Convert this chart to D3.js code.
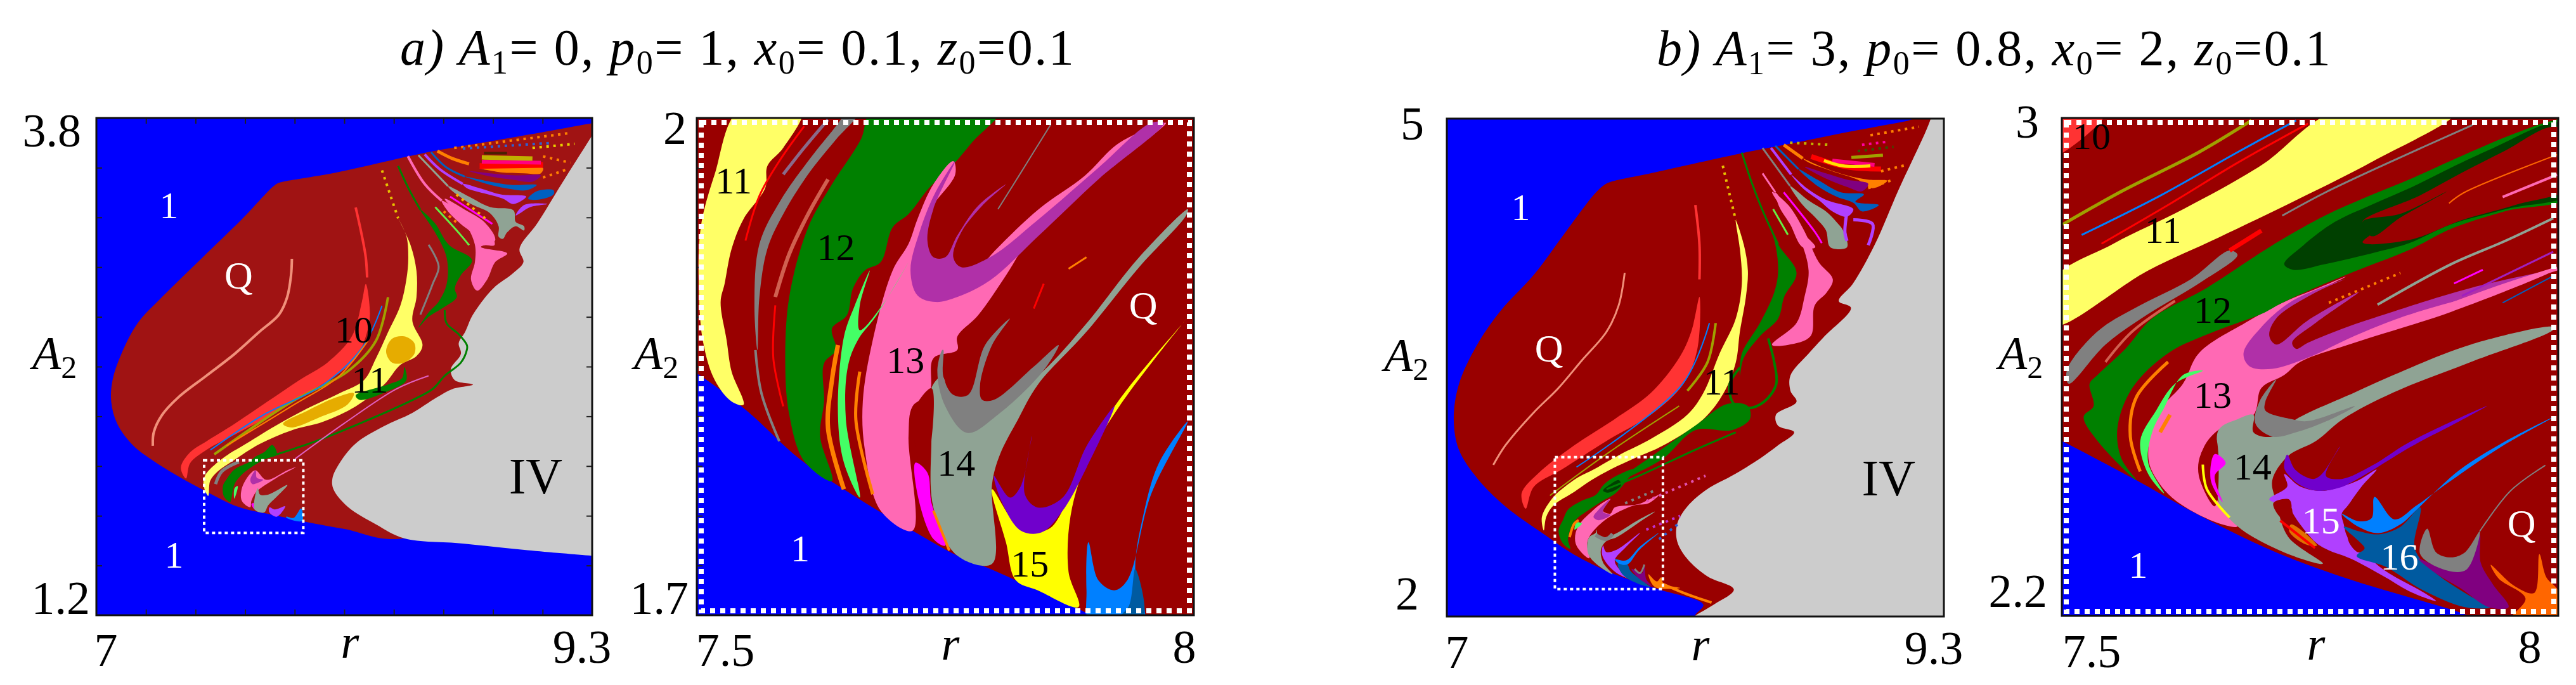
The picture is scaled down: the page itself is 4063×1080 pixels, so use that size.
<!DOCTYPE html>
<html>
<head>
<meta charset="utf-8">
<script src="https://cdn.jsdelivr.net/npm/d3@7"></script>
<style>
    html, body { margin: 0; padding: 0; background: #fff; overflow: hidden; }
    text { font-family: "Liberation Serif", serif; fill: #000; }
</style>
</head>
<body>
<svg id="chart" width="4063" height="1080"></svg>
<script>
// All outlines are [r, A2]

// --- panel a, whole range
const aDark = [[9.4,3.793],[9.3,3.773],[9.0,3.712],[8.75,3.663],[8.503,3.613],[8.11,3.514],[7.86,3.465],[7.84,3.458],[7.815,3.437],[7.679,3.275],[7.491,3.069],[7.304,2.863],[7.191,2.726],[7.116,2.566],[7.075,2.429],[7.069,2.315],[7.097,2.201],[7.172,2.086],[7.266,2.006],[7.379,1.927],[7.51,1.847],[7.66,1.766],[7.829,1.722],[7.978,1.687],[8.147,1.652],[8.428,1.602],[9.4,2.132]];
const aGray = [[8.428,1.602],[8.297,1.675],[8.166,1.767],[8.1,1.858],[8.095,1.915],[8.128,1.995],[8.203,2.098],[8.335,2.189],[8.466,2.258],[8.578,2.338],[8.653,2.383],[8.747,2.406],[8.663,2.429],[8.644,2.486],[8.691,2.566],[8.681,2.623],[8.71,2.68],[8.747,2.772],[8.841,2.909],[8.934,2.989],[8.981,3.046],[8.963,3.115],[9.047,3.252],[9.159,3.457],[9.3,3.709],[9.4,3.888],[9.4,1.502],[9.3,1.511],[9.0,1.54],[8.7,1.575]];
const aRedBand = [[8.25,2.932],[8.232,2.84],[8.185,2.658],[8.072,2.521],[7.941,2.429],[7.791,2.315],[7.641,2.201],[7.51,2.109],[7.435,2.052],[7.392,1.972],[7.416,1.915],[7.435,1.995],[7.51,2.064],[7.66,2.155],[7.829,2.258],[7.978,2.361],[8.11,2.452],[8.203,2.543],[8.25,2.658],[8.269,2.772]];
const aYellow = [[8.4,3.275],[8.438,3.183],[8.447,3.069],[8.438,2.955],[8.41,2.818],[8.353,2.68],[8.297,2.543],[8.241,2.429],[8.128,2.361],[7.978,2.281],[7.829,2.189],[7.679,2.086],[7.612,2.041],[7.553,1.991],[7.504,1.93],[7.497,1.881],[7.519,1.824],[7.528,1.903],[7.563,1.952],[7.632,2.006],[7.759,2.096],[7.904,2.166],[8.053,2.212],[8.203,2.292],[8.335,2.406],[8.41,2.509],[8.485,2.555],[8.513,2.612],[8.466,2.738],[8.485,2.863],[8.485,3.0],[8.457,3.137]];
const aOrangeEye = [[8.344,2.578],[8.372,2.646],[8.428,2.658],[8.475,2.623],[8.475,2.566],[8.428,2.521],[8.372,2.521]];
const aOrangeSliver = [[7.866,2.201],[7.978,2.269],[8.11,2.338],[8.194,2.361],[8.166,2.303],[8.035,2.235],[7.904,2.182]];
const aGreenBlob = [[8.503,3.32],[8.569,3.252],[8.635,3.137],[8.743,3.057],[8.691,2.978],[8.663,2.909],[8.672,2.863],[8.606,2.806],[8.541,2.76],[8.494,2.703],[8.541,2.783],[8.588,2.84],[8.625,2.932],[8.625,3.069],[8.569,3.206]];
const aGreenHook = [[8.203,2.349],[8.353,2.406],[8.419,2.441],[8.428,2.498],[8.438,2.429],[8.353,2.372],[8.222,2.326]];
const aGreenLow = [[7.592,1.82],[7.587,1.875],[7.602,1.908],[7.641,1.963],[7.71,2.002],[7.739,2.03],[7.778,2.052],[7.817,2.09],[7.837,2.041],[7.788,2.019],[7.719,1.974],[7.67,1.93],[7.641,1.886],[7.626,1.809],[7.621,1.792]];
const aPinkUp = [[8.616,3.377],[8.71,3.32],[8.803,3.252],[8.85,3.16],[8.784,3.126],[8.906,3.092],[8.85,3.046],[8.813,2.955],[8.766,2.897],[8.738,2.955],[8.756,3.046],[8.756,3.137],[8.71,3.252]];
const aPinkHigh = [[8.602,3.367],[8.67,3.323],[8.739,3.246],[8.778,3.223],[8.827,3.201],[8.847,3.135],[8.807,3.135],[8.768,3.135],[8.749,3.19],[8.69,3.246],[8.631,3.312]];
const aSageUp = [[8.631,3.444],[8.729,3.389],[8.827,3.334],[8.935,3.317],[8.945,3.257],[8.984,3.234],[8.984,3.212],[8.945,3.234],[8.905,3.201],[8.886,3.168],[8.866,3.179],[8.866,3.234],[8.827,3.301],[8.729,3.356],[8.641,3.428]];
const aVioletUp = [[8.70,3.455],[8.778,3.433],[8.876,3.4],[8.994,3.389],[8.935,3.35],[8.886,3.378],[8.798,3.406],[8.719,3.433]];
const aVioletTwo = [[8.945,3.29],[8.984,3.345],[9.092,3.35],[9.013,3.334],[8.964,3.301]];
const aBlueBand = [[8.709,3.494],[8.827,3.467],[8.925,3.45],[9.043,3.45],[8.994,3.422],[8.925,3.428],[8.827,3.45]];
const aBlueTwo = [[9.003,3.378],[9.043,3.417],[9.121,3.422],[9.121,3.4],[9.052,3.373]];
const aPurpleBand = [[8.729,3.522],[8.827,3.511],[8.945,3.5],[9.062,3.5],[9.023,3.467],[8.925,3.478],[8.827,3.494]];
const aOrangeBand = [[8.778,3.538],[8.876,3.538],[9.072,3.538],[9.062,3.511],[8.984,3.511],[8.876,3.516]];
const aPinkLow = [[7.675,1.798],[7.675,1.864],[7.715,1.941],[7.739,1.958],[7.788,1.908],[7.886,1.958],[7.925,1.974],[7.837,1.919],[7.768,1.869],[7.739,1.842],[7.719,1.798],[7.714,1.765]];
const aPurpleLow = [[7.714,1.908],[7.739,1.958],[7.744,1.919],[7.773,1.908],[7.749,1.892],[7.724,1.886]];
const aMagentaLow = [[7.719,1.781],[7.729,1.787],[7.734,1.753]];
const aMintLow = [[7.641,1.864],[7.656,1.875],[7.64,1.809]];
const aSageLow = [[7.749,1.864],[7.759,1.831],[7.798,1.831],[7.886,1.881],[7.837,1.82],[7.798,1.776],[7.778,1.737],[7.734,1.753],[7.734,1.809]];
const aVioletLow = [[7.803,1.764],[7.827,1.753],[7.876,1.77],[7.837,1.715],[7.803,1.737]];
const aBlueLow = [[7.881,1.715],[7.915,1.709],[7.95,1.759],[7.955,1.693],[7.881,1.71]];
const aSalmonLine = [[7.262,2.086],[7.266,2.155],[7.304,2.246],[7.379,2.338],[7.51,2.452],[7.641,2.566],[7.754,2.68],[7.847,2.772],[7.885,2.863],[7.903,2.978],[7.907,3.064]];
const aRedLine = [[8.203,3.332],[8.232,3.183],[8.25,3.069],[8.256,2.966]];
const aGreenTop = [[8.4,3.549],[8.447,3.434],[8.503,3.32]];
const aGreenCurve = [[8.616,2.795],[8.625,2.726],[8.681,2.669],[8.719,2.612],[8.719,2.589],[8.691,2.521],[8.616,2.452],[8.56,2.383],[8.447,2.315],[8.241,2.212],[8.016,2.109],[7.772,2.018]];
const aOlive = [[8.353,2.863],[8.297,2.635],[8.166,2.475],[7.904,2.315],[7.547,2.041]];
const aBlueThin = [[8.325,2.818],[8.241,2.612],[8.053,2.406],[7.772,2.246],[7.529,2.064]];
const aOrangeThin = [[8.26,2.635],[8.128,2.452],[7.904,2.292],[7.604,2.086]];
const aPinkThin = [[8.541,2.452],[8.391,2.383],[8.147,2.201],[7.922,2.018]];
const aGrayThin = [[8.541,3.137],[8.588,3.023],[8.56,2.932],[8.503,2.772]];
const aGrayLow = [[7.553,1.886],[7.582,1.952],[7.661,2.002]];
const aPinkTop = [[8.445,3.6],[8.523,3.455],[8.602,3.367]];
const aSageTop = [[8.494,3.605],[8.631,3.444]];
const aVioletTop = [[8.523,3.61],[8.592,3.533],[8.70,3.455]];
const aBlueTop = [[8.553,3.621],[8.621,3.544],[8.709,3.494]];
const aRedTop = [[8.778,3.549],[9.072,3.555]];
const aRoseTop = [[8.788,3.571],[9.062,3.566]];
const aOliveTop = [[8.788,3.594],[9.023,3.588]];
const aBrownTop = [[8.798,3.616],[8.905,3.616]];
const aOrangeTop = [[8.582,3.627],[8.651,3.588],[8.729,3.56]];
const aMagentaTop = [[8.641,3.389],[8.837,3.246]];
const aMintTop = [[8.572,3.334],[8.68,3.201],[8.729,3.135]];
const aYellowDots = [[8.325,3.526],[8.4,3.275]];
const aDotsOne = [[8.66,3.643],[9.19,3.72]];
const aDotsTwo = [[8.70,3.64],[9.12,3.67]];
const aDotsThree = [[9.023,3.643],[9.219,3.665]];
const aDotsFour = [[9.072,3.599],[9.199,3.566]];
const aDotsFive = [[9.072,3.489],[9.19,3.533]];
const aDotsSix = [[8.611,3.312],[8.68,3.245]];
const aDotsSeven = [[8.67,3.4],[8.82,3.26]];
const aZoomBox = [7.5, 7.96, 1.63, 2.01];
const aTickR = [7.23,7.46,7.69,7.92,8.15,8.38,8.61,8.84,9.07];
const aTickA = [1.46,1.72,1.98,2.24,2.5,2.76,3.02,3.28,3.54];
const aNotes = [['1',7.337,3.343,'#fff',60],['1',7.36,1.515,'#fff',60],['Q',7.66,2.978,'#fff',62],['10',8.194,2.692,'#000',60],['11',8.269,2.429,'#000',60],['IV',9.038,1.926,'#000',80]];

// --- panel a, zoom
const bDark = [[7.4,1.88],[7.5,1.846],[7.551,1.823],[7.604,1.794],[7.661,1.771],[7.717,1.751],[7.762,1.736],[7.799,1.727],[7.843,1.715],[7.88,1.705],[7.896,1.7],[7.95,1.68],[8.1,1.68],[8.1,2.1],[7.4,2.1]];
const bYellow = [[7.543,2.005],[7.606,2.005],[7.587,1.982],[7.571,1.971],[7.569,1.958],[7.547,1.939],[7.535,1.921],[7.528,1.9],[7.524,1.889],[7.53,1.866],[7.535,1.847],[7.547,1.827],[7.535,1.829],[7.518,1.842],[7.506,1.866],[7.502,1.9],[7.504,1.934],[7.518,1.966]];
const bGreen = [[7.677,2.005],[7.805,2.005],[7.778,1.986],[7.758,1.972],[7.734,1.958],[7.713,1.942],[7.697,1.934],[7.685,1.913],[7.669,1.908],[7.657,1.897],[7.651,1.881],[7.636,1.873],[7.64,1.86],[7.628,1.852],[7.628,1.829],[7.624,1.808],[7.636,1.781],[7.608,1.793],[7.593,1.821],[7.589,1.852],[7.593,1.892],[7.612,1.934],[7.636,1.96],[7.665,1.987]];
const bGrayBand = [[7.652,2.003],[7.663,2.003],[7.64,1.987],[7.612,1.966],[7.587,1.942],[7.571,1.921],[7.563,1.892],[7.561,1.86],[7.558,1.887],[7.563,1.924],[7.584,1.95],[7.612,1.974],[7.636,1.992]];
const bPink = [[7.972,1.997],[7.925,1.974],[7.88,1.953],[7.839,1.931],[7.811,1.905],[7.783,1.881],[7.762,1.868],[7.762,1.86],[7.738,1.855],[7.734,1.834],[7.717,1.826],[7.713,1.808],[7.717,1.751],[7.685,1.763],[7.669,1.8],[7.667,1.829],[7.677,1.866],[7.697,1.908],[7.713,1.924],[7.722,1.939],[7.738,1.96],[7.758,1.974],[7.76,1.966],[7.73,1.94],[7.72,1.908],[7.73,1.892],[7.762,1.895],[7.8,1.92],[7.844,1.945],[7.89,1.965],[7.925,1.985]];
const bPurple = [[7.76,1.974],[7.74,1.955],[7.724,1.931],[7.715,1.908],[7.722,1.893],[7.74,1.889],[7.762,1.892],[7.795,1.902],[7.844,1.929],[7.904,1.963],[7.97,1.997],[7.957,1.997],[7.904,1.97],[7.844,1.939],[7.795,1.916],[7.766,1.91],[7.758,1.916],[7.766,1.931],[7.787,1.947],[7.811,1.96],[7.783,1.947],[7.762,1.929],[7.75,1.916],[7.738,1.916],[7.732,1.926],[7.738,1.945]];
const bSage = [[7.994,1.945],[7.992,1.941],[7.945,1.91],[7.892,1.871],[7.843,1.839],[7.823,1.818],[7.805,1.797],[7.797,1.779],[7.797,1.731],[7.762,1.736],[7.738,1.765],[7.736,1.808],[7.736,1.837],[7.747,1.844],[7.758,1.818],[7.775,1.812],[7.803,1.825],[7.848,1.847],[7.892,1.876],[7.945,1.916]];
const bGrayU = [[7.747,1.86],[7.742,1.847],[7.75,1.826],[7.772,1.81],[7.803,1.821],[7.848,1.847],[7.864,1.863],[7.839,1.85],[7.799,1.83],[7.787,1.83],[7.785,1.839],[7.797,1.863],[7.815,1.879],[7.79,1.863],[7.773,1.833],[7.758,1.833],[7.748,1.844],[7.748,1.86]];
const bDarkPatch = [[7.736,1.837],[7.717,1.822],[7.719,1.805],[7.728,1.786],[7.736,1.805]];
const bMagenta = [[7.72,1.792],[7.732,1.786],[7.736,1.768],[7.75,1.742],[7.738,1.746],[7.722,1.773]];
const bMint = [[7.674,1.908],[7.664,1.887],[7.664,1.872],[7.689,1.889],[7.713,1.913],[7.681,1.881],[7.662,1.866],[7.652,1.85],[7.65,1.818],[7.664,1.771],[7.648,1.792],[7.642,1.821],[7.648,1.868],[7.659,1.887]];
const bYellow15 = [[7.994,1.88],[7.925,1.826],[7.892,1.792],[7.876,1.76],[7.874,1.726],[7.884,1.705],[7.843,1.715],[7.821,1.721],[7.811,1.744],[7.797,1.776],[7.826,1.752],[7.854,1.752],[7.878,1.776],[7.917,1.823],[7.99,1.877]];
const bViolet = [[7.799,1.784],[7.807,1.768],[7.826,1.751],[7.847,1.75],[7.868,1.763],[7.892,1.789],[7.92,1.826],[7.892,1.802],[7.868,1.771],[7.843,1.765],[7.83,1.773],[7.837,1.808],[7.826,1.778],[7.815,1.771]];
const bBlue = [[7.894,1.744],[7.904,1.721],[7.92,1.715],[7.933,1.721],[7.957,1.773],[7.994,1.817],[7.965,1.792],[7.949,1.76],[7.941,1.728],[7.949,1.695],[7.896,1.695],[7.892,1.715]];
const bDarkBlue = [[7.941,1.728],[7.935,1.706],[7.925,1.698],[7.949,1.698]];
const bGrayLow = [[7.559,1.86],[7.565,1.834],[7.583,1.805]];
const bMauve = [[7.632,1.999],[7.608,1.982],[7.587,1.966]];
const bRedOne = [[7.608,1.995],[7.583,1.974],[7.563,1.953],[7.549,1.926]];
const bSalmon = [[7.632,1.963],[7.612,1.942],[7.593,1.918],[7.579,1.892]];
const bRedTwo = [[7.579,1.887],[7.577,1.855],[7.587,1.826]];
const bOrangeOne = [[7.642,1.863],[7.636,1.842],[7.632,1.813],[7.648,1.776]];
const bOrangeTwo = [[7.664,1.847],[7.66,1.818],[7.677,1.773]];
const bOrangeThree = [[7.738,1.763],[7.754,1.739]];
const bRedMark = [[7.849,1.9],[7.839,1.885]];
const bOrangeMark = [[7.892,1.916],[7.874,1.909]];
const bGrayTop = [[7.856,1.996],[7.827,1.968],[7.803,1.945]];
const bTickA = [1.73,1.76,1.79,1.82,1.85,1.88,1.91,1.94,1.97];
const bNotes = [['11',7.537,1.962,'#000',60],['12',7.64,1.922,'#000',60],['13',7.71,1.854,'#000',60],['14',7.761,1.792,'#000',60],['15',7.835,1.731,'#000',60],['1',7.604,1.74,'#fff',60],['Q',7.949,1.887,'#fff',62]];

// --- panel b, whole range
const cDark = [[9.3,5.03],[9.122,4.984],[8.9,4.93],[8.63,4.86],[8.356,4.789],[7.963,4.676],[7.75,4.615],[7.725,4.597],[7.683,4.545],[7.552,4.321],[7.402,4.058],[7.252,3.847],[7.14,3.637],[7.056,3.4],[7.032,3.189],[7.056,3.005],[7.14,2.834],[7.271,2.663],[7.439,2.505],[7.589,2.373],[7.776,2.255],[7.982,2.163],[8.187,2.071],[8.15,2.005],[8.5,2.1],[9.3,3]];
const cGray = [[8.1,1.95],[8.15,2.005],[8.234,2.071],[8.328,2.163],[8.206,2.242],[8.113,2.347],[8.066,2.452],[8.066,2.558],[8.113,2.663],[8.206,2.768],[8.318,2.847],[8.449,2.952],[8.532,3.031],[8.607,3.11],[8.532,3.15],[8.523,3.216],[8.618,3.294],[8.59,3.36],[8.59,3.452],[8.674,3.584],[8.748,3.689],[8.87,3.86],[8.814,3.9],[8.879,4.005],[8.98,4.24],[9.09,4.57],[9.235,4.984],[9.26,5.1],[9.4,5.1],[9.4,1.9]];
const cRedBand = [[8.169,3.926],[8.131,3.716],[8.075,3.558],[7.944,3.347],[7.776,3.189],[7.589,3.031],[7.421,2.86],[7.346,2.742],[7.365,2.65],[7.402,2.781],[7.533,2.887],[7.739,3.058],[7.944,3.216],[8.094,3.4],[8.159,3.61]];
const cYellow = [[8.337,4.387],[8.374,4.242],[8.393,4.084],[8.384,3.926],[8.356,3.716],[8.337,3.531],[8.281,3.347],[8.187,3.189],[8.0,3.03],[7.88,2.96],[7.757,2.886],[7.669,2.822],[7.591,2.752],[7.493,2.669],[7.46,2.6],[7.449,2.518],[7.44,2.6],[7.493,2.72],[7.542,2.778],[7.61,2.841],[7.679,2.886],[7.8,2.975],[7.944,3.07],[8.113,3.216],[8.187,3.347],[8.262,3.584],[8.337,3.795],[8.365,4.005],[8.356,4.216]];
const cGreenBlob = [[8.459,4.453],[8.533,4.242],[8.618,4.071],[8.561,3.926],[8.533,3.795],[8.449,3.689],[8.374,3.558],[8.356,3.452],[8.365,3.584],[8.449,3.768],[8.515,3.953],[8.533,4.084],[8.515,4.268]];
const cGreenBand = [[8.393,3.268],[8.402,3.189],[8.318,3.123],[8.15,3.123],[8.0,2.952],[7.813,2.821],[7.72,2.755],[7.963,2.979],[8.15,3.15],[8.299,3.281]];
const cGreenLow = [[7.537,2.58],[7.561,2.644],[7.62,2.695],[7.689,2.733],[7.728,2.797],[7.786,2.848],[7.865,2.886],[7.82,2.8],[7.777,2.739],[7.718,2.695],[7.659,2.644],[7.591,2.574],[7.561,2.466],[7.571,2.408],[7.537,2.44],[7.517,2.517]];
const cDarkGreenTip = [[7.723,2.759],[7.757,2.797],[7.796,2.822],[7.806,2.79],[7.747,2.746]];
const cPinkUp = [[8.505,4.558],[8.58,4.479],[8.655,4.321],[8.72,4.137],[8.786,4.031],[8.758,3.953],[8.702,3.874],[8.683,3.689],[8.58,3.637],[8.505,3.637],[8.618,3.768],[8.655,3.926],[8.674,4.084],[8.636,4.268],[8.58,4.4]];
const cPinkHigh = [[8.52,4.556],[8.578,4.454],[8.637,4.327],[8.705,4.225],[8.647,4.225],[8.588,4.365],[8.539,4.467]];
const cSageUp = [[8.588,4.594],[8.676,4.505],[8.754,4.441],[8.803,4.377],[8.833,4.327],[8.852,4.225],[8.774,4.225],[8.754,4.327],[8.706,4.403],[8.647,4.479]];
const cVioletUp = [[8.593,4.664],[8.666,4.581],[8.754,4.511],[8.881,4.454],[8.852,4.409],[8.784,4.441],[8.725,4.505],[8.647,4.581]];
const cBlueBand = [[8.627,4.696],[8.715,4.632],[8.823,4.556],[8.93,4.543],[8.891,4.499],[8.999,4.479],[8.921,4.441],[8.882,4.492],[8.803,4.53],[8.715,4.594]];
const cPurpleBand = [[8.657,4.709],[8.754,4.67],[8.852,4.632],[8.95,4.607],[8.921,4.562],[8.852,4.588],[8.754,4.639]];
const cOrangeBand = [[8.647,4.76],[8.735,4.709],[8.852,4.658],[8.95,4.632],[9.038,4.626],[8.97,4.581],[8.901,4.632],[8.784,4.683],[8.676,4.734]];
const cPinkLow = [[7.596,2.44],[7.596,2.504],[7.62,2.567],[7.669,2.631],[7.703,2.669],[7.757,2.708],[7.72,2.64],[7.757,2.62],[7.777,2.657],[7.884,2.676],[7.982,2.733],[7.933,2.682],[7.865,2.669],[7.777,2.618],[7.718,2.567],[7.664,2.491],[7.649,2.44],[7.659,2.351],[7.62,2.39]];
const cPurpleLow = [[7.679,2.599],[7.703,2.644],[7.757,2.708],[7.723,2.631],[7.757,2.612],[7.703,2.58]];
const cMintLow = [[7.591,2.523],[7.6,2.567],[7.625,2.561],[7.6,2.529]];
const cSageLow = [[7.659,2.478],[7.689,2.504],[7.693,2.523],[7.703,2.478],[7.767,2.491],[7.884,2.58],[7.962,2.631],[7.904,2.58],[7.786,2.478],[7.737,2.453],[7.713,2.402],[7.723,2.325],[7.767,2.255],[7.708,2.3],[7.659,2.364],[7.649,2.427]];
const cVioletLow = [[7.723,2.427],[7.737,2.389],[7.786,2.402],[7.894,2.504],[7.826,2.415],[7.777,2.338],[7.806,2.274],[7.855,2.223],[7.786,2.262],[7.737,2.325],[7.718,2.376]];
const cBlueLow = [[7.777,2.345],[7.83,2.338],[7.894,2.421],[7.982,2.504],[7.89,2.4],[7.835,2.313],[7.796,2.319]];
const cDarkBlueLow = [[7.791,2.319],[7.835,2.313],[7.85,2.274],[7.923,2.198],[7.943,2.179],[7.884,2.198],[7.816,2.249]];
const cPlumLow = [[7.855,2.287],[7.904,2.262],[7.914,2.313],[7.923,2.224],[7.948,2.185],[7.894,2.224]];
const cFlameLow = [[7.933,2.255],[7.972,2.211],[7.992,2.236],[8.002,2.198],[8.08,2.172],[7.962,2.179]];
const cSalmonLine = [[7.215,2.913],[7.271,3.031],[7.402,3.229],[7.514,3.373],[7.626,3.545],[7.739,3.716],[7.795,3.874],[7.823,4.071]];
const cRedLine = [[8.15,4.479],[8.169,4.242],[8.169,4.031]];
const cGreenTop = [[8.365,4.795],[8.412,4.61],[8.459,4.453],[8.533,4.242]];
const cGreenLoop = [[8.487,3.676],[8.515,3.531],[8.524,3.4],[8.468,3.294],[8.393,3.255],[8.328,3.281],[8.309,3.4],[8.356,3.5]];
const cGreenThin = [[8.337,3.11],[8.15,3.005],[7.888,2.847],[7.739,2.768]];
const cRedTop = [[8.686,4.772],[8.852,4.709],[9.009,4.696]];
const cRoseTop = [[8.784,4.747],[8.979,4.721]];
const cYellowTop = [[8.745,4.747],[8.833,4.715],[8.96,4.715]];
const cOliveTop = [[8.872,4.766],[9.018,4.779]];
const cOrangeTop = [[8.559,4.842],[8.647,4.76]];
const cVioletTop = [[8.5,4.823],[8.593,4.664]];
const cGrayTop = [[8.461,4.823],[8.588,4.594]];
const cPinkTop = [[8.461,4.67],[8.52,4.556]];
const cBlueTop = [[8.52,4.836],[8.627,4.696]];
const cMagentaTop = [[8.559,4.556],[8.705,4.314],[8.735,4.25]];
const cMintTop = [[8.51,4.454],[8.578,4.301]];
const cLilacOne = [[8.852,4.441],[8.842,4.314],[8.852,4.263]];
const cLilacTwo = [[8.881,4.39],[8.97,4.365],[8.95,4.237]];
const cOrangeLow = [[7.992,2.2],[8.1,2.14],[8.225,2.084]];
const cOrangeRing = [[7.568,2.478],[7.59,2.56],[7.61,2.58]];
const cGrayLow = [[7.689,2.491],[7.737,2.466],[7.767,2.497]];
const cGraySmall = [[7.869,2.287],[7.894,2.262],[7.914,2.313]];
const cOlive = [[8.244,3.768],[8.206,3.531],[8.113,3.36]];
const cOliveLow = [[7.477,2.729],[7.739,2.979],[8.075,3.268]];
const cBlueThin = [[8.215,3.768],[8.09,3.4],[7.6,2.9]];
const cYellowDots = [[8.277,4.716],[8.337,4.387]];
const cDotsOne = [[8.96,4.9],[9.185,4.951]];
const cDotsTwo = [[8.921,4.842],[9.048,4.862]];
const cDotsThree = [[9.009,4.683],[9.126,4.721]];
const cDotsFour = [[8.95,4.581],[9.067,4.632]];
const cDotsFive = [[8.588,4.855],[8.774,4.842]];
const cDotsSix = [[8.901,4.804],[9.067,4.83]];
const cDotsSeven = [[7.923,2.695],[8.197,2.848]];
const cDotsEight = [[7.923,2.523],[8.08,2.606]];
const cDotsNine = [[7.982,2.466],[8.08,2.567]];
const cDotsTen = [[7.825,2.682],[7.972,2.765]];
const cZoomBox = [7.5, 8, 2.165, 2.96];
const cNotes = [['1',7.342,4.466,'#fff',60],['Q',7.473,3.616,'#fff',62],['11',8.272,3.413,'#000',60],['IV',9.044,2.834,'#000',80]];

// --- panel b, zoom
const dDark = [[7.4,2.56],[7.5,2.481],[7.575,2.418],[7.638,2.362],[7.716,2.302],[7.795,2.256],[7.854,2.228],[7.905,2.203],[7.95,2.17],[8.1,2.15],[8.1,3.1],[7.4,3.1]];
const dRedCorner = [[7.49,3.01],[7.544,3.01],[7.52,2.966],[7.49,2.94]];
const dYellow = [[7.775,3.01],[7.897,3.01],[7.814,2.931],[7.74,2.871],[7.658,2.808],[7.587,2.755],[7.49,2.666],[7.49,2.738],[7.552,2.798],[7.623,2.854],[7.701,2.924]];
const dGreen = [[7.995,2.996],[7.956,2.975],[7.897,2.935],[7.854,2.904],[7.807,2.873],[7.765,2.843],[7.722,2.805],[7.693,2.776],[7.646,2.727],[7.591,2.678],[7.564,2.629],[7.536,2.587],[7.528,2.573],[7.532,2.537],[7.522,2.52],[7.536,2.481],[7.575,2.418],[7.56,2.453],[7.556,2.502],[7.571,2.566],[7.607,2.622],[7.654,2.657],[7.701,2.685],[7.722,2.703],[7.765,2.734],[7.807,2.761],[7.85,2.788],[7.892,2.822],[7.946,2.85],[8.02,2.88],[8.02,3]];
const dDarkGreen = [[7.724,2.765],[7.743,2.795],[7.775,2.833],[7.811,2.86],[7.854,2.89],[7.897,2.924],[7.935,2.952],[7.993,2.992],[8.02,2.99],[8.02,2.885],[7.946,2.853],[7.892,2.829],[7.85,2.799],[7.818,2.785],[7.765,2.765],[7.733,2.756]];
const dWedge = [[7.803,2.833],[7.86,2.875],[7.903,2.912],[7.946,2.947],[7.995,2.986],[8.02,2.97],[8.02,2.895],[7.956,2.86],[7.903,2.836],[7.85,2.804],[7.803,2.8],[7.815,2.82]];
const dMidStripe = [[7.803,2.833],[7.841,2.846],[7.888,2.882],[7.841,2.84],[7.812,2.81]];
const dGrayBand = [[7.669,2.787],[7.63,2.741],[7.579,2.699],[7.536,2.657],[7.505,2.594],[7.507,2.573],[7.544,2.636],[7.587,2.685],[7.638,2.734],[7.677,2.78]];
const dPink = [[7.995,2.755],[7.893,2.689],[7.795,2.639],[7.74,2.608],[7.724,2.587],[7.701,2.566],[7.693,2.523],[7.658,2.499],[7.642,2.467],[7.64,2.418],[7.658,2.383],[7.677,2.344],[7.654,2.351],[7.611,2.39],[7.591,2.432],[7.587,2.46],[7.595,2.523],[7.622,2.573],[7.638,2.622],[7.685,2.671],[7.722,2.703],[7.754,2.724],[7.786,2.745],[7.732,2.7],[7.70,2.655],[7.695,2.62],[7.712,2.61],[7.748,2.625],[7.795,2.655],[7.846,2.687],[7.912,2.72]];
const dPurple = [[7.785,2.741],[7.732,2.706],[7.701,2.664],[7.683,2.622],[7.689,2.601],[7.712,2.597],[7.748,2.615],[7.795,2.65],[7.846,2.682],[7.912,2.713],[7.995,2.755],[7.912,2.727],[7.834,2.689],[7.787,2.664],[7.748,2.639],[7.736,2.629],[7.732,2.639],[7.756,2.671],[7.799,2.72],[7.748,2.675],[7.716,2.636],[7.709,2.65],[7.716,2.678],[7.756,2.72]];
const dSage = [[7.995,2.66],[7.912,2.608],[7.834,2.559],[7.783,2.516],[7.756,2.481],[7.728,2.457],[7.712,2.418],[7.716,2.383],[7.728,2.327],[7.763,2.284],[7.724,2.302],[7.677,2.344],[7.658,2.383],[7.658,2.446],[7.658,2.499],[7.677,2.516],[7.693,2.523],[7.693,2.495],[7.712,2.488],[7.736,2.516],[7.795,2.559],[7.834,2.587],[7.912,2.636],[7.995,2.664]];
const dGrayU = [[7.716,2.58],[7.699,2.544],[7.695,2.509],[7.712,2.488],[7.736,2.495],[7.767,2.513],[7.795,2.537],[7.748,2.513],[7.732,2.516],[7.705,2.53],[7.705,2.544]];
const dDarkPatch = [[7.654,2.488],[7.64,2.46],[7.638,2.425],[7.654,2.376],[7.658,2.439]];
const dMagenta = [[7.654,2.46],[7.665,2.446],[7.654,2.425],[7.662,2.383],[7.65,2.418]];
const dMint = [[7.642,2.594],[7.614,2.573],[7.595,2.53],[7.579,2.481],[7.587,2.428],[7.603,2.397],[7.587,2.446],[7.591,2.495],[7.603,2.534],[7.622,2.587]];
const dLilac = [[7.724,2.428],[7.74,2.408],[7.762,2.401],[7.782,2.408],[7.799,2.418],[7.817,2.435],[7.802,2.408],[7.788,2.377],[7.782,2.364],[7.784,2.347],[7.788,2.326],[7.804,2.302],[7.826,2.272],[7.864,2.238],[7.877,2.224],[7.852,2.238],[7.826,2.262],[7.791,2.292],[7.768,2.306],[7.755,2.319],[7.733,2.364],[7.731,2.374],[7.709,2.387],[7.727,2.408]];
const dViolet = [[7.724,2.438],[7.727,2.459],[7.735,2.435],[7.753,2.42],[7.762,2.428],[7.78,2.472],[7.766,2.425],[7.782,2.42],[7.813,2.442],[7.85,2.479],[7.928,2.537],[7.901,2.513],[7.852,2.472],[7.817,2.438],[7.799,2.421],[7.78,2.406],[7.757,2.401],[7.74,2.41],[7.729,2.425]];
const dBlue = [[7.782,2.364],[7.799,2.343],[7.819,2.333],[7.841,2.347],[7.857,2.37],[7.875,2.398],[7.901,2.435],[7.945,2.479],[7.996,2.52],[7.943,2.472],[7.89,2.415],[7.857,2.377],[7.835,2.355],[7.815,2.391],[7.812,2.357],[7.799,2.352]];
const dDarkBlue = [[7.784,2.343],[7.799,2.336],[7.819,2.331],[7.841,2.343],[7.861,2.374],[7.855,2.316],[7.859,2.296],[7.877,2.268],[7.912,2.231],[7.932,2.214],[7.906,2.214],[7.864,2.241],[7.826,2.279],[7.797,2.296],[7.804,2.309]];
const dPatch16 = [[7.788,2.33],[7.805,2.309],[7.799,2.302],[7.79,2.316]];
const dPlum = [[7.859,2.292],[7.879,2.279],[7.901,2.272],[7.912,2.292],[7.921,2.33],[7.922,2.285],[7.934,2.251],[7.95,2.214],[7.93,2.214],[7.901,2.245],[7.877,2.268]];
const dGrayLow = [[7.868,2.34],[7.877,2.302],[7.892,2.294],[7.906,2.302],[7.921,2.336],[7.908,2.275],[7.89,2.272],[7.861,2.299]];
const dFlame = [[7.932,2.282],[7.956,2.248],[7.976,2.237],[7.981,2.299],[7.988,2.262],[8.0,2.241],[8.01,2.19],[7.95,2.19],[7.967,2.228],[7.94,2.26]];
const dOrangeStrip = [[7.731,2.347],[7.757,2.313],[7.744,2.316],[7.729,2.336]];
const dDarkStrip = [[7.713,2.381],[7.729,2.387],[7.731,2.37],[7.722,2.357]];
const dOlive = [[7.691,2.996],[7.638,2.945],[7.56,2.882],[7.501,2.829]];
const dBlueThin = [[7.736,2.996],[7.677,2.945],[7.599,2.875],[7.52,2.812]];
const dRedThin = [[7.748,2.991],[7.677,2.928],[7.611,2.864],[7.54,2.798]];
const dGrayOne = [[7.722,2.843],[7.765,2.88],[7.829,2.928],[7.914,2.989]];
const dSageLine = [[7.818,2.7],[7.892,2.765],[7.946,2.802],[7.995,2.839]];
const dPinkOne = [[7.944,2.873],[7.999,2.909]];
const dPinkTwo = [[7.892,2.7],[7.946,2.731],[7.999,2.758]];
const dVioletLine = [[7.903,2.714],[7.995,2.785]];
const dBlueLine = [[7.944,2.703],[7.997,2.748]];
const dMagentaMark = [[7.895,2.734],[7.924,2.756]];
const dOrangeMark = [[7.89,2.863],[7.905,2.88],[7.999,2.941]];
const dOrangeDots = [[7.769,2.703],[7.841,2.751]];
const dRedMark = [[7.669,2.787],[7.701,2.819]];
const dSalmon = [[7.614,2.706],[7.571,2.657],[7.544,2.608]];
const dOrangeOne = [[7.607,2.608],[7.575,2.551],[7.569,2.488],[7.579,2.432]];
const dOrangeTwo = [[7.609,2.523],[7.599,2.495]];
const dYellowThin = [[7.642,2.443],[7.646,2.404],[7.669,2.358]];
const dRedLow = [[7.72,2.353],[7.755,2.309]];
const dGrayFade = [[7.921,2.336],[7.952,2.401],[7.987,2.442]];
const dNotes = [['10',7.53,2.97,'#000',60],['11',7.602,2.82,'#000',60],['12',7.652,2.691,'#000',60],['13',7.652,2.555,'#000',60],['14',7.692,2.439,'#000',60],['15',7.761,2.353,'#fff',60],['16',7.84,2.295,'#fff',60],['1',7.577,2.282,'#fff',60],['Q',7.963,2.349,'#fff',62]];

const RED = '#990000', BLUE = '#0000ff', GRAY = '#cccccc', LEMON = '#ffff66', GREEN = '#008000';
const PINK = '#ff69b4', SAGE = '#8fa394', MID = '#808080', ORANGE = '#ff8000', SKY = '#0080ff', NAVY = '#005aa0';
const PURPLE = '#b030a8', VIOLET = '#7000cc', LILAC = '#b040ff', SCARLET = '#ff3333', MINT = '#44ff66', PLUM = '#800080';

const panels = [
    {
        left: 152, right: 934, top: 186, bottom: 970, rDomain: [7, 9.3], aDomain: [1.2, 3.8],
        notes: aNotes, box: aZoomBox, tickR: aTickR, tickA: aTickA, tickSides: true,
        fills: [[aDark,'#a01313'],[aGray,GRAY],[aRedBand,SCARLET],[aYellow,LEMON],[aOrangeEye,'#e6ac00'],[aOrangeSliver,'#e6ac00'],[aGreenBlob,GREEN],[aGreenHook,GREEN],[aGreenLow,GREEN],[aPinkUp,PINK],[aPinkHigh,PINK],[aSageUp,SAGE],[aVioletUp,LILAC],[aVioletTwo,LILAC],[aPurpleBand,PLUM],[aOrangeBand,ORANGE],[aBlueBand,'#0060c0'],[aBlueTwo,'#0060c0'],[aPinkLow,PINK],[aPurpleLow,PURPLE],[aMagentaLow,'#ff00ff'],[aMintLow,MINT],[aSageLow,SAGE],[aVioletLow,LILAC],[aBlueLow,SKY]],
        lines: [[aSalmonLine,'#f0907a',4],[aRedLine,SCARLET,4],[aGreenTop,GREEN,3],[aGreenCurve,GREEN,3],[aOlive,'#a0a000',4],[aBlueThin,SKY,2],[aOrangeThin,ORANGE,2],[aPinkThin,'#e060c0',2],[aGrayThin,MID,3],[aGrayLow,MID,5],[aPinkTop,PINK,4],[aSageTop,SAGE,3],[aVioletTop,LILAC,4],[aBlueTop,'#0060c0',3],[aRedTop,'#ff0000',9],[aRoseTop,'#ff0080',6],[aOliveTop,'#c0b000',7],[aBrownTop,'#4a2000',4],[aOrangeTop,ORANGE,5],[aMagentaTop,'#ff00ff',3],[aMintTop,'#66ee44',3]],
        dots: [[aYellowDots,'#e6c000'],[aDotsOne,ORANGE],[aDotsTwo,'#3060d0'],[aDotsThree,'#e8d000'],[aDotsFour,ORANGE],[aDotsFive,ORANGE],[aDotsSix,ORANGE],[aDotsSeven,'#ffb000']],
        labels: { hiA: ['3.8',128,231], loA: ['1.2',142,968], name: [51,582], loR: ['7',167,1050], r: [552,1037], hiR: ['9.3',918,1045] }
    },
    {
        left: 1099, right: 1883, top: 186, bottom: 970, rDomain: [7.5, 8], aDomain: [1.7, 2],
        notes: bNotes, tickR: [], tickA: bTickA, tickSides: false, frame: true,
        fills: [[bDark,RED],[bYellow,LEMON],[bGrayBand,MID],[bGreen,GREEN],[bPink,PINK],[bPurple,PURPLE],[bSage,SAGE],[bGrayU,MID],[bDarkPatch,RED],[bMagenta,'#ff00ff'],[bMint,MINT],[bYellow15,'#ffff00'],[bViolet,VIOLET],[bBlue,SKY],[bDarkBlue,NAVY]],
        lines: [[bGrayLow,MID,4],[bMauve,'#8a6a8a',5],[bRedOne,'#ff0000',3],[bSalmon,'#d06050',6],[bRedTwo,'#ff0000',3],[bOrangeOne,ORANGE,7],[bOrangeTwo,ORANGE,5],[bOrangeThree,ORANGE,4],[bRedMark,'#ff0000',3],[bOrangeMark,ORANGE,3],[bGrayTop,MID,2]],
        dots: [],
        labels: { hiA: ['2',1083,227], loA: ['1.7',1086,968], name: [1000,582], loR: ['7.5',1144,1050], r: [1499,1040], hiR: ['8',1868,1045] }
    },
    {
        left: 2282, right: 3066, top: 187, bottom: 972, rDomain: [7, 9.3], aDomain: [2, 5],
        notes: cNotes, box: cZoomBox, tickR: [], tickA: [], tickSides: false,
        fills: [[cDark,RED],[cGray,GRAY],[cRedBand,SCARLET],[cYellow,LEMON],[cGreenBlob,GREEN],[cGreenBand,GREEN],[cGreenLow,GREEN],[cDarkGreenTip,'#004000'],[cPinkUp,PINK],[cPinkHigh,PINK],[cSageUp,SAGE],[cVioletUp,LILAC],[cOrangeBand,ORANGE],[cPurpleBand,PLUM],[cBlueBand,'#0060c0'],[cPinkLow,PINK],[cPurpleLow,PURPLE],[cMintLow,MINT],[cSageLow,SAGE],[cVioletLow,LILAC],[cDarkBlueLow,NAVY],[cBlueLow,SKY],[cPlumLow,PLUM],[cFlameLow,ORANGE]],
        lines: [[cSalmonLine,'#f0907a',3],[cRedLine,SCARLET,4],[cGreenTop,GREEN,3],[cGreenLoop,GREEN,4],[cGreenThin,GREEN,3],[cRedTop,'#ff0000',8],[cRoseTop,'#ff0080',6],[cYellowTop,'#ffe000',5],[cOliveTop,'#a0a000',5],[cOrangeTop,ORANGE,5],[cVioletTop,LILAC,4],[cGrayTop,MID,3],[cPinkTop,PINK,3],[cBlueTop,'#0060c0',3],[cMagentaTop,'#ff00ff',3],[cMintTop,'#66ee44',3],[cLilacOne,LILAC,5],[cLilacTwo,LILAC,5],[cOrangeLow,ORANGE,4],[cOrangeRing,ORANGE,4],[cGrayLow,MID,6],[cGraySmall,MID,3],[cOlive,'#a0a000',4],[cOliveLow,'#a0a000',2],[cBlueThin,SKY,2]],
        dots: [[cYellowDots,'#e6c000'],[cDotsOne,ORANGE],[cDotsTwo,'#ff00a0'],[cDotsThree,ORANGE],[cDotsFour,ORANGE],[cDotsFive,'#c0b000'],[cDotsSix,'#335500'],[cDotsSeven,'#e050b0'],[cDotsEight,'#c030d0'],[cDotsNine,'#3060d0'],[cDotsTen,MID]],
        labels: { hiA: ['5',2246,220], loA: ['2',2238,961], name: [2183,585], loR: ['7',2298,1053], r: [2682,1041], hiR: ['9.3',3050,1047] }
    },
    {
        left: 3252, right: 4035, top: 186, bottom: 971, rDomain: [7.5, 8], aDomain: [2.2, 3],
        notes: dNotes, tickR: [], tickA: [], tickSides: false, frame: true,
        fills: [[dDark,RED],[dRedCorner,SCARLET],[dYellow,LEMON],[dGrayBand,MID],[dPink,PINK],[dGreen,GREEN],[dDarkGreen,'#004000'],[dWedge,RED],[dMidStripe,'#004000'],[dPurple,PURPLE],[dSage,SAGE],[dGrayU,MID],[dDarkPatch,RED],[dMagenta,'#ff00ff'],[dMint,MINT],[dLilac,LILAC],[dViolet,VIOLET],[dDarkBlue,NAVY],[dBlue,SKY],[dPatch16,RED],[dPlum,PLUM],[dGrayLow,MID],[dFlame,'#ff6600'],[dDarkStrip,RED],[dOrangeStrip,'#e07000']],
        lines: [[dOlive,'#a0a000',5],[dBlueThin,SKY,3],[dRedThin,'#ff0000',3],[dGrayOne,MID,3],[dSageLine,SAGE,4],[dPinkOne,PINK,4],[dPinkTwo,PINK,6],[dVioletLine,'#a020c0',3],[dBlueLine,'#0060c0',2],[dMagentaMark,'#ff00ff',3],[dOrangeMark,'#ff6600',2],[dRedMark,'#ff0000',7],[dSalmon,'#d06050',4],[dOrangeOne,ORANGE,5],[dOrangeTwo,ORANGE,6],[dYellowThin,'#ffff00',4],[dRedLow,'#ff0000',4],[dGrayFade,MID,2]],
        dots: [[dOrangeDots,ORANGE]],
        labels: { hiA: ['3',3216,217], loA: ['2.2',3229,957], name: [3152,582], loR: ['7.5',3299,1052], r: [3653,1040], hiR: ['8',3990,1045] }
    }
];

const svg = d3.select('#chart');
const defs = svg.append('defs');
const FONT = 74;

const drawPanel = (p, i) => {
    const x = d3.scaleLinear().domain(p.rDomain).range([p.left, p.right]);
    const y = d3.scaleLinear().domain(p.aDomain).range([p.bottom, p.top]);
    const shape = d3.line().x(d => x(d[0])).y(d => y(d[1])).curve(d3.curveCatmullRomClosed.alpha(0.5));
    const curve = d3.line().x(d => x(d[0])).y(d => y(d[1])).curve(d3.curveCatmullRom);
    const w = p.right - p.left, h = p.bottom - p.top;

    defs.append('clipPath').attr('id', 'clip' + i)
        .append('rect').attr('x', p.left).attr('y', p.top).attr('width', w).attr('height', h);

    const g = svg.append('g');
    const marks = g.append('g').attr('clip-path', `url(#clip${i})`);

    marks.append('rect').attr('x', p.left).attr('y', p.top).attr('width', w).attr('height', h).attr('fill', BLUE);

    marks.selectAll('path.region')
        .data(p.fills)
        .enter()
        .append('path')
        .classed('region', true)
        .attr('d', d => shape(d[0]))
        .attr('fill', d => d[1]);

    marks.selectAll('path.streak')
        .data(p.lines)
        .enter()
        .append('path')
        .classed('streak', true)
        .attr('d', d => curve(d[0]))
        .attr('fill', 'none')
        .attr('stroke', d => d[1])
        .attr('stroke-width', d => d[2]);

    marks.selectAll('path.dots')
        .data(p.dots)
        .enter()
        .append('path')
        .classed('dots', true)
        .attr('d', d => curve(d[0]))
        .attr('fill', 'none')
        .attr('stroke', d => d[1])
        .attr('stroke-width', 4)
        .attr('stroke-dasharray', '4 7');

    // Ticks point inwards, no numbers on them
    const ticks = (axis, values, size, at) => {
        g.append('g').attr('transform', at)
            .call(axis.tickValues(values).tickSize(size).tickFormat(''))
            .call(s => s.select('.domain').remove())
            .call(s => s.selectAll('line').attr('stroke', '#222').attr('stroke-width', 2));
    };
    ticks(d3.axisLeft(y), p.tickA, -9, `translate(${p.left},0)`);
    if (p.tickSides) {
        ticks(d3.axisRight(y), p.tickA, -9, `translate(${p.right},0)`);
        ticks(d3.axisBottom(x), p.tickR, -9, `translate(0,${p.bottom})`);
        ticks(d3.axisTop(x), p.tickR, -9, `translate(0,${p.top})`);
    }

    g.append('rect').attr('x', p.left).attr('y', p.top).attr('width', w).attr('height', h)
        .attr('fill', 'none').attr('stroke', '#111').attr('stroke-width', 3);

    // The zoom window, drawn on the overview and round the zoomed panel
    if (p.box) {
        g.append('rect')
            .attr('x', x(p.box[0])).attr('y', y(p.box[3]))
            .attr('width', x(p.box[1]) - x(p.box[0])).attr('height', y(p.box[2]) - y(p.box[3]))
            .attr('fill', 'none').attr('stroke', '#fff').attr('stroke-width', 4).attr('stroke-dasharray', '5 5');
    }
    if (p.frame) {
        g.append('rect')
            .attr('x', p.left + 7).attr('y', p.top + 7).attr('width', w - 14).attr('height', h - 14)
            .attr('fill', 'none').attr('stroke', '#fff').attr('stroke-width', 8).attr('stroke-dasharray', '8 8');
    }

    g.selectAll('text.note')
        .data(p.notes)
        .enter()
        .append('text')
        .classed('note', true)
        .attr('x', d => x(d[1]))
        .attr('y', d => y(d[2]))
        .attr('text-anchor', 'middle')
        .attr('dominant-baseline', 'central')
        .attr('font-size', d => d[4])
        .style('fill', d => d[3])
        .text(d => d[0]);

    const l = p.labels;
    const axisText = (t, xp, yp, anchor) => g.append('text')
        .attr('x', xp).attr('y', yp).attr('text-anchor', anchor).attr('font-size', FONT).text(t);
    axisText(l.hiA[0], l.hiA[1], l.hiA[2], 'end');
    axisText(l.loA[0], l.loA[1], l.loA[2], 'end');
    axisText(l.loR[0], l.loR[1], l.loR[2], 'middle');
    axisText(l.hiR[0], l.hiR[1], l.hiR[2], 'middle');
    axisText('r', l.r[0], l.r[1], 'middle').attr('font-style', 'italic');
    const name = axisText('', l.name[0], l.name[1], 'start');
    name.append('tspan').attr('font-style', 'italic').text('A');
    name.append('tspan').attr('font-size', 50).attr('dy', 14).text('2');
};

// Titles: [text, italic, subscript]
const titleA = [['a) A',1,0],['1',0,1],['= 0, ',0,0],['p',1,0],['0',0,1],['= 1, ',0,0],['x',1,0],['0',0,1],['= 0.1, ',0,0],['z',1,0],['0',0,1],['=0.1',0,0]];
const titleB = [['b) A',1,0],['1',0,1],['= 3, ',0,0],['p',1,0],['0',0,1],['= 0.8, ',0,0],['x',1,0],['0',0,1],['= 2, ',0,0],['z',1,0],['0',0,1],['=0.1',0,0]];

const drawTitle = (parts, xp, yp) => {
    const t = svg.append('text').attr('x', xp).attr('y', yp).attr('font-size', 80)
        .attr('letter-spacing', 2.5).attr('xml:space', 'preserve');
    let shifted = false;
    parts.forEach(part => {
        const s = t.append('tspan').text(part[0]);
        if (part[1]) s.attr('font-style', 'italic');
        if (part[2]) { s.attr('font-size', 52).attr('dy', 14); shifted = true; }
        else if (shifted) { s.attr('dy', -14); shifted = false; }
    });
};

panels.forEach(drawPanel);
drawTitle(titleA, 631, 102);
drawTitle(titleB, 2613, 103);
</script>
</body>
</html>
